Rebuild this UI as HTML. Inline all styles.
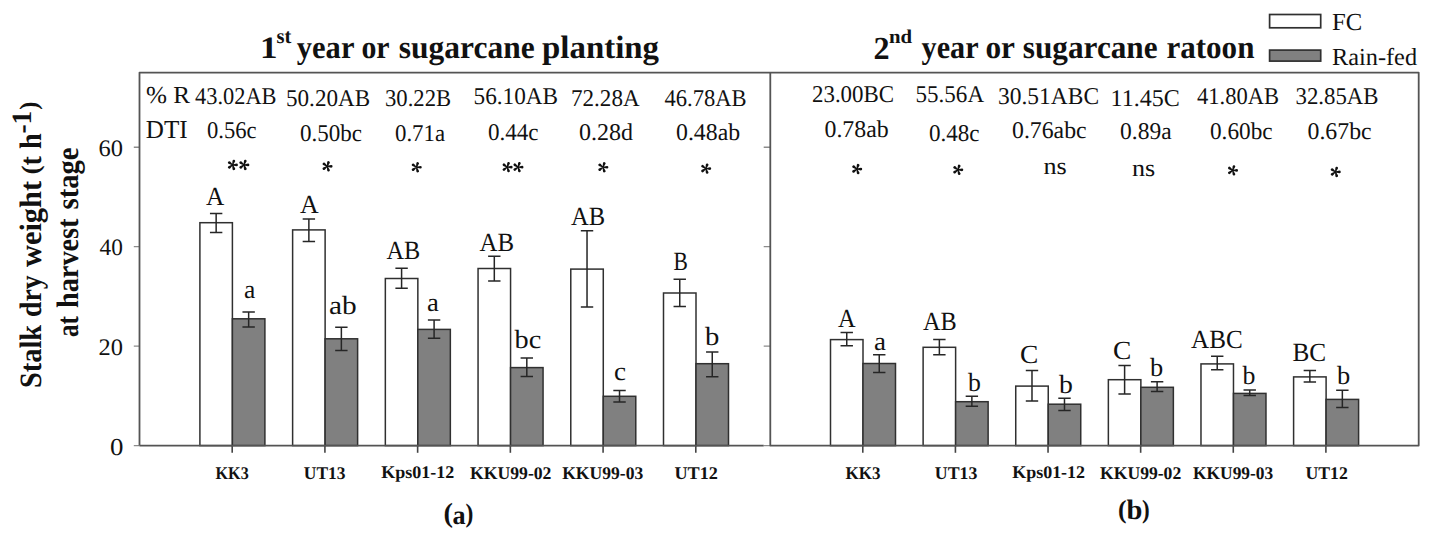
<!DOCTYPE html><html><head><meta charset="utf-8"><style>html,body{margin:0;padding:0;background:#fff;overflow:hidden;}svg{display:block;}text{font-family:"Liberation Serif",serif;fill:#111;text-rendering:geometricPrecision;}</style></head><body>
<svg width="1435" height="534" viewBox="0 0 1435 534">
<rect x="0" y="0" width="1435" height="534" fill="#fff"/>
<rect x="199.90" y="222.70" width="32.50" height="222.90" fill="#fff" stroke="#303030" stroke-width="1.5"/>
<rect x="232.40" y="318.80" width="32.50" height="126.80" fill="#808080" stroke="#303030" stroke-width="1.5"/>
<rect x="292.62" y="229.90" width="32.50" height="215.70" fill="#fff" stroke="#303030" stroke-width="1.5"/>
<rect x="325.12" y="338.80" width="32.50" height="106.80" fill="#808080" stroke="#303030" stroke-width="1.5"/>
<rect x="385.34" y="278.50" width="32.50" height="167.10" fill="#fff" stroke="#303030" stroke-width="1.5"/>
<rect x="417.84" y="329.40" width="32.50" height="116.20" fill="#808080" stroke="#303030" stroke-width="1.5"/>
<rect x="478.06" y="268.50" width="32.50" height="177.10" fill="#fff" stroke="#303030" stroke-width="1.5"/>
<rect x="510.56" y="367.60" width="32.50" height="78.00" fill="#808080" stroke="#303030" stroke-width="1.5"/>
<rect x="570.78" y="269.10" width="32.50" height="176.50" fill="#fff" stroke="#303030" stroke-width="1.5"/>
<rect x="603.28" y="396.30" width="32.50" height="49.30" fill="#808080" stroke="#303030" stroke-width="1.5"/>
<rect x="663.50" y="293.00" width="32.50" height="152.60" fill="#fff" stroke="#303030" stroke-width="1.5"/>
<rect x="696.00" y="363.70" width="32.50" height="81.90" fill="#808080" stroke="#303030" stroke-width="1.5"/>
<rect x="830.50" y="339.60" width="32.50" height="106.00" fill="#fff" stroke="#303030" stroke-width="1.5"/>
<rect x="863.00" y="363.50" width="32.50" height="82.10" fill="#808080" stroke="#303030" stroke-width="1.5"/>
<rect x="923.12" y="347.30" width="32.50" height="98.30" fill="#fff" stroke="#303030" stroke-width="1.5"/>
<rect x="955.62" y="401.70" width="32.50" height="43.90" fill="#808080" stroke="#303030" stroke-width="1.5"/>
<rect x="1015.74" y="386.10" width="32.50" height="59.50" fill="#fff" stroke="#303030" stroke-width="1.5"/>
<rect x="1048.24" y="404.20" width="32.50" height="41.40" fill="#808080" stroke="#303030" stroke-width="1.5"/>
<rect x="1108.36" y="379.70" width="32.50" height="65.90" fill="#fff" stroke="#303030" stroke-width="1.5"/>
<rect x="1140.86" y="387.30" width="32.50" height="58.30" fill="#808080" stroke="#303030" stroke-width="1.5"/>
<rect x="1200.98" y="363.90" width="32.50" height="81.70" fill="#fff" stroke="#303030" stroke-width="1.5"/>
<rect x="1233.48" y="393.40" width="32.50" height="52.20" fill="#808080" stroke="#303030" stroke-width="1.5"/>
<rect x="1293.60" y="376.90" width="32.50" height="68.70" fill="#fff" stroke="#303030" stroke-width="1.5"/>
<rect x="1326.10" y="399.40" width="32.50" height="46.20" fill="#808080" stroke="#303030" stroke-width="1.5"/>
<path d="M216.15 213.50V232.40M209.95 213.50H222.35M209.95 232.40H222.35" stroke="#262626" stroke-width="1.5" fill="none"/>
<path d="M248.65 312.00V327.00M242.45 312.00H254.85M242.45 327.00H254.85" stroke="#262626" stroke-width="1.5" fill="none"/>
<path d="M308.87 218.90V241.50M302.67 218.90H315.07M302.67 241.50H315.07" stroke="#262626" stroke-width="1.5" fill="none"/>
<path d="M341.37 327.20V350.40M335.17 327.20H347.57M335.17 350.40H347.57" stroke="#262626" stroke-width="1.5" fill="none"/>
<path d="M401.59 268.20V288.20M395.39 268.20H407.79M395.39 288.20H407.79" stroke="#262626" stroke-width="1.5" fill="none"/>
<path d="M434.09 319.90V338.20M427.89 319.90H440.29M427.89 338.20H440.29" stroke="#262626" stroke-width="1.5" fill="none"/>
<path d="M494.31 256.20V280.90M488.11 256.20H500.51M488.11 280.90H500.51" stroke="#262626" stroke-width="1.5" fill="none"/>
<path d="M526.81 357.90V376.60M520.61 357.90H533.01M520.61 376.60H533.01" stroke="#262626" stroke-width="1.5" fill="none"/>
<path d="M587.03 230.70V307.10M580.83 230.70H593.23M580.83 307.10H593.23" stroke="#262626" stroke-width="1.5" fill="none"/>
<path d="M619.53 390.60V402.10M613.33 390.60H625.73M613.33 402.10H625.73" stroke="#262626" stroke-width="1.5" fill="none"/>
<path d="M679.75 279.30V306.50M673.55 279.30H685.95M673.55 306.50H685.95" stroke="#262626" stroke-width="1.5" fill="none"/>
<path d="M712.25 352.00V376.80M706.05 352.00H718.45M706.05 376.80H718.45" stroke="#262626" stroke-width="1.5" fill="none"/>
<path d="M846.75 332.40V345.80M840.55 332.40H852.95M840.55 345.80H852.95" stroke="#262626" stroke-width="1.5" fill="none"/>
<path d="M879.25 354.80V372.50M873.05 354.80H885.45M873.05 372.50H885.45" stroke="#262626" stroke-width="1.5" fill="none"/>
<path d="M939.37 339.40V354.70M933.17 339.40H945.57M933.17 354.70H945.57" stroke="#262626" stroke-width="1.5" fill="none"/>
<path d="M971.87 396.30V406.20M965.67 396.30H978.07M965.67 406.20H978.07" stroke="#262626" stroke-width="1.5" fill="none"/>
<path d="M1031.99 370.50V401.10M1025.79 370.50H1038.19M1025.79 401.10H1038.19" stroke="#262626" stroke-width="1.5" fill="none"/>
<path d="M1064.49 398.30V410.40M1058.29 398.30H1070.69M1058.29 410.40H1070.69" stroke="#262626" stroke-width="1.5" fill="none"/>
<path d="M1124.61 365.40V394.00M1118.41 365.40H1130.81M1118.41 394.00H1130.81" stroke="#262626" stroke-width="1.5" fill="none"/>
<path d="M1157.11 381.70V391.50M1150.91 381.70H1163.31M1150.91 391.50H1163.31" stroke="#262626" stroke-width="1.5" fill="none"/>
<path d="M1217.23 356.30V369.80M1211.03 356.30H1223.43M1211.03 369.80H1223.43" stroke="#262626" stroke-width="1.5" fill="none"/>
<path d="M1249.73 390.00V395.60M1243.53 390.00H1255.93M1243.53 395.60H1255.93" stroke="#262626" stroke-width="1.5" fill="none"/>
<path d="M1309.85 370.50V381.90M1303.65 370.50H1316.05M1303.65 381.90H1316.05" stroke="#262626" stroke-width="1.5" fill="none"/>
<path d="M1342.35 390.30V407.50M1336.15 390.30H1348.55M1336.15 407.50H1348.55" stroke="#262626" stroke-width="1.5" fill="none"/>
<path d="M133.80 445.60H139.5M763.70 445.60H770.3" stroke="#8c8c8c" stroke-width="1.4"/>
<path d="M133.80 346.13H139.5M763.70 346.13H770.3" stroke="#8c8c8c" stroke-width="1.4"/>
<path d="M133.80 246.67H139.5M763.70 246.67H770.3" stroke="#8c8c8c" stroke-width="1.4"/>
<path d="M133.80 147.20H139.5M763.70 147.20H770.3" stroke="#8c8c8c" stroke-width="1.4"/>
<path d="M232.20 445.6V452.8" stroke="#444" stroke-width="1.6"/>
<path d="M324.92 445.6V452.8" stroke="#444" stroke-width="1.6"/>
<path d="M417.64 445.6V452.8" stroke="#444" stroke-width="1.6"/>
<path d="M510.36 445.6V452.8" stroke="#444" stroke-width="1.6"/>
<path d="M603.08 445.6V452.8" stroke="#444" stroke-width="1.6"/>
<path d="M695.80 445.6V452.8" stroke="#444" stroke-width="1.6"/>
<path d="M862.80 445.6V452.8" stroke="#444" stroke-width="1.6"/>
<path d="M955.42 445.6V452.8" stroke="#444" stroke-width="1.6"/>
<path d="M1048.04 445.6V452.8" stroke="#444" stroke-width="1.6"/>
<path d="M1140.66 445.6V452.8" stroke="#444" stroke-width="1.6"/>
<path d="M1233.28 445.6V452.8" stroke="#444" stroke-width="1.6"/>
<path d="M1325.90 445.6V452.8" stroke="#444" stroke-width="1.6"/>
<path d="M139.5 445.6V72.6H1418.7V445.6H770.3V72.6 M139.5 445.6H763.70" stroke="#545454" stroke-width="1.8" fill="none" stroke-linejoin="round"/>
<rect x="1269.6" y="14.5" width="51.1" height="13.3" fill="#fff" stroke="#303030" stroke-width="1.7"/>
<rect x="1269.6" y="50.1" width="51.1" height="11" fill="#808080" stroke="#303030" stroke-width="1.7"/>
<text x="146.00" y="103" font-size="24.40" textLength="44.02" lengthAdjust="spacingAndGlyphs">% R</text>
<text x="195.00" y="104" font-size="24.00" textLength="81.52" lengthAdjust="spacingAndGlyphs">43.02AB</text>
<text x="286.00" y="106" font-size="24.00" textLength="84.15" lengthAdjust="spacingAndGlyphs">50.20AB</text>
<text x="385.00" y="106" font-size="24.00" textLength="66.13" lengthAdjust="spacingAndGlyphs">30.22B</text>
<text x="473.50" y="104" font-size="24.00" textLength="84.63" lengthAdjust="spacingAndGlyphs">56.10AB</text>
<text x="571.00" y="106" font-size="24.00" textLength="68.62" lengthAdjust="spacingAndGlyphs">72.28A</text>
<text x="664.50" y="106" font-size="24.00" textLength="82.03" lengthAdjust="spacingAndGlyphs">46.78AB</text>
<text x="812.00" y="102" font-size="24.00" textLength="82.07" lengthAdjust="spacingAndGlyphs">23.00BC</text>
<text x="915.50" y="102" font-size="24.00" textLength="68.57" lengthAdjust="spacingAndGlyphs">55.56A</text>
<text x="998.00" y="104" font-size="24.00" textLength="101.08" lengthAdjust="spacingAndGlyphs">30.51ABC</text>
<text x="1110.50" y="106" font-size="24.00" textLength="69.24" lengthAdjust="spacingAndGlyphs">11.45C</text>
<text x="1197.00" y="104" font-size="24.00" textLength="82.03" lengthAdjust="spacingAndGlyphs">41.80AB</text>
<text x="1295.50" y="104" font-size="24.00" textLength="83.09" lengthAdjust="spacingAndGlyphs">32.85AB</text>
<text x="145.80" y="138" font-size="25.90" textLength="41.83" lengthAdjust="spacingAndGlyphs">DTI</text>
<text x="207.00" y="138" font-size="24.00" textLength="49.59" lengthAdjust="spacingAndGlyphs">0.56c</text>
<text x="300.00" y="141" font-size="24.00" textLength="62.05" lengthAdjust="spacingAndGlyphs">0.50bc</text>
<text x="395.00" y="141" font-size="24.00" textLength="50.08" lengthAdjust="spacingAndGlyphs">0.71a</text>
<text x="488.00" y="140" font-size="24.00" textLength="50.59" lengthAdjust="spacingAndGlyphs">0.44c</text>
<text x="579.00" y="140" font-size="24.00" textLength="54.07" lengthAdjust="spacingAndGlyphs">0.28d</text>
<text x="676.00" y="140" font-size="24.00" textLength="64.09" lengthAdjust="spacingAndGlyphs">0.48ab</text>
<text x="824.50" y="137" font-size="24.00" textLength="64.13" lengthAdjust="spacingAndGlyphs">0.78ab</text>
<text x="929.00" y="141" font-size="24.00" textLength="50.59" lengthAdjust="spacingAndGlyphs">0.48c</text>
<text x="1012.00" y="138" font-size="24.00" textLength="74.57" lengthAdjust="spacingAndGlyphs">0.76abc</text>
<text x="1120.00" y="139" font-size="24.00" textLength="51.59" lengthAdjust="spacingAndGlyphs">0.89a</text>
<text x="1210.00" y="139" font-size="24.00" textLength="62.57" lengthAdjust="spacingAndGlyphs">0.60bc</text>
<text x="1307.50" y="139" font-size="24.00" textLength="64.10" lengthAdjust="spacingAndGlyphs">0.67bc</text>
<text x="1043.50" y="174" font-size="24.00" textLength="23.29" lengthAdjust="spacingAndGlyphs">ns</text>
<text x="1132.00" y="176" font-size="24.00" textLength="23.19" lengthAdjust="spacingAndGlyphs">ns</text>
<text x="206.00" y="205" font-size="26.20" textLength="18.28" lengthAdjust="spacingAndGlyphs">A</text>
<text x="244.00" y="298" font-size="26.20" textLength="11.30" lengthAdjust="spacingAndGlyphs">a</text>
<text x="300.00" y="213" font-size="26.20" textLength="18.68" lengthAdjust="spacingAndGlyphs">A</text>
<text x="329.00" y="314" font-size="26.20" textLength="27.69" lengthAdjust="spacingAndGlyphs">ab</text>
<text x="386.50" y="259" font-size="26.20" textLength="33.72" lengthAdjust="spacingAndGlyphs">AB</text>
<text x="427.00" y="311" font-size="26.20" textLength="11.82" lengthAdjust="spacingAndGlyphs">a</text>
<text x="479.50" y="251" font-size="26.20" textLength="34.58" lengthAdjust="spacingAndGlyphs">AB</text>
<text x="514.50" y="348" font-size="26.20" textLength="26.69" lengthAdjust="spacingAndGlyphs">bc</text>
<text x="571.00" y="225" font-size="26.20" textLength="34.15" lengthAdjust="spacingAndGlyphs">AB</text>
<text x="614.00" y="380" font-size="26.20" textLength="11.99" lengthAdjust="spacingAndGlyphs">c</text>
<text x="673.50" y="270" font-size="26.20" textLength="14.37" lengthAdjust="spacingAndGlyphs">B</text>
<text x="705.00" y="345" font-size="26.20" textLength="14.35" lengthAdjust="spacingAndGlyphs">b</text>
<text x="838.00" y="327" font-size="26.20" textLength="17.60" lengthAdjust="spacingAndGlyphs">A</text>
<text x="874.00" y="350" font-size="26.20" textLength="11.97" lengthAdjust="spacingAndGlyphs">a</text>
<text x="923.00" y="330" font-size="26.20" textLength="33.72" lengthAdjust="spacingAndGlyphs">AB</text>
<text x="968.00" y="391" font-size="26.20" textLength="12.88" lengthAdjust="spacingAndGlyphs">b</text>
<text x="1020.00" y="363" font-size="26.20" textLength="18.29" lengthAdjust="spacingAndGlyphs">C</text>
<text x="1059.00" y="393" font-size="26.20" textLength="13.88" lengthAdjust="spacingAndGlyphs">b</text>
<text x="1113.00" y="359" font-size="26.20" textLength="18.29" lengthAdjust="spacingAndGlyphs">C</text>
<text x="1150.00" y="376" font-size="26.20" textLength="13.19" lengthAdjust="spacingAndGlyphs">b</text>
<text x="1191.00" y="348" font-size="26.20" textLength="51.65" lengthAdjust="spacingAndGlyphs">ABC</text>
<text x="1242.50" y="384" font-size="26.20" textLength="12.90" lengthAdjust="spacingAndGlyphs">b</text>
<text x="1292.50" y="361" font-size="26.20" textLength="33.71" lengthAdjust="spacingAndGlyphs">BC</text>
<text x="1337.00" y="384" font-size="26.20" textLength="13.21" lengthAdjust="spacingAndGlyphs">b</text>
<text x="110.00" y="455" font-size="24.39" textLength="13.44" lengthAdjust="spacingAndGlyphs">0</text>
<text x="98.50" y="355" font-size="23.71" textLength="24.41" lengthAdjust="spacingAndGlyphs">20</text>
<text x="99.50" y="255" font-size="23.71" textLength="23.25" lengthAdjust="spacingAndGlyphs">40</text>
<text x="98.50" y="156" font-size="23.71" textLength="24.41" lengthAdjust="spacingAndGlyphs">60</text>
<text x="215.60" y="479" font-size="17.80" font-weight="bold" textLength="33.09" lengthAdjust="spacingAndGlyphs">KK3</text>
<text x="303.80" y="479" font-size="17.80" font-weight="bold" textLength="41.68" lengthAdjust="spacingAndGlyphs">UT13</text>
<text x="381.20" y="478" font-size="17.80" font-weight="bold" textLength="73.06" lengthAdjust="spacingAndGlyphs">Kps01-12</text>
<text x="470.00" y="479" font-size="17.80" font-weight="bold" textLength="81.47" lengthAdjust="spacingAndGlyphs">KKU99-02</text>
<text x="562.20" y="479" font-size="17.80" font-weight="bold" textLength="81.04" lengthAdjust="spacingAndGlyphs">KKU99-03</text>
<text x="674.40" y="479" font-size="17.80" font-weight="bold" textLength="43.44" lengthAdjust="spacingAndGlyphs">UT12</text>
<text x="845.60" y="479" font-size="17.80" font-weight="bold" textLength="34.94" lengthAdjust="spacingAndGlyphs">KK3</text>
<text x="934.80" y="479" font-size="17.80" font-weight="bold" textLength="42.53" lengthAdjust="spacingAndGlyphs">UT13</text>
<text x="1012.20" y="478" font-size="17.80" font-weight="bold" textLength="72.87" lengthAdjust="spacingAndGlyphs">Kps01-12</text>
<text x="1100.00" y="479" font-size="17.80" font-weight="bold" textLength="81.25" lengthAdjust="spacingAndGlyphs">KKU99-02</text>
<text x="1193.00" y="479" font-size="17.80" font-weight="bold" textLength="80.24" lengthAdjust="spacingAndGlyphs">KKU99-03</text>
<text x="1305.40" y="479" font-size="17.80" font-weight="bold" textLength="42.38" lengthAdjust="spacingAndGlyphs">UT12</text>
<text x="443.50" y="522" font-size="27.68" font-weight="bold" textLength="9.45" lengthAdjust="spacingAndGlyphs">(</text>
<text x="452.50" y="524" font-size="26.66" font-weight="bold" textLength="13.09" lengthAdjust="spacingAndGlyphs">a</text>
<text x="465.50" y="522" font-size="26.53" font-weight="bold" textLength="7.88" lengthAdjust="spacingAndGlyphs">)</text>
<text x="1118.00" y="518" font-size="26.07" font-weight="bold" textLength="8.52" lengthAdjust="spacingAndGlyphs">(</text>
<text x="1126.50" y="519" font-size="27.98" font-weight="bold" textLength="15.89" lengthAdjust="spacingAndGlyphs">b</text>
<text x="1142.00" y="518" font-size="26.24" font-weight="bold" textLength="7.71" lengthAdjust="spacingAndGlyphs">)</text>
<text x="1332.00" y="30" font-size="24.50" textLength="30.20" lengthAdjust="spacingAndGlyphs">FC</text>
<text x="1332.00" y="65" font-size="24.50" textLength="85.04" lengthAdjust="spacingAndGlyphs">Rain-fed</text>
<text x="260.00" y="58" font-size="31.17" font-weight="bold" textLength="17.53" lengthAdjust="spacingAndGlyphs">1</text>
<text x="276.50" y="43" font-size="20.96" font-weight="bold" textLength="14.80" lengthAdjust="spacingAndGlyphs">st</text>
<text x="296.80" y="58" font-size="32.40" font-weight="bold" textLength="57.64" lengthAdjust="spacingAndGlyphs">year</text>
<text x="361.40" y="58" font-size="32.40" font-weight="bold" textLength="28.16" lengthAdjust="spacingAndGlyphs">or</text>
<text x="398.80" y="58" font-size="32.40" font-weight="bold" textLength="135.82" lengthAdjust="spacingAndGlyphs">sugarcane</text>
<text x="542.00" y="58" font-size="32.40" font-weight="bold" textLength="117.01" lengthAdjust="spacingAndGlyphs">planting</text>
<text x="873.50" y="59" font-size="32.16" font-weight="bold" textLength="16.08" lengthAdjust="spacingAndGlyphs">2</text>
<text x="889.00" y="43" font-size="19.65" font-weight="bold" textLength="23.13" lengthAdjust="spacingAndGlyphs">nd</text>
<text x="921.60" y="58" font-size="32.40" font-weight="bold" textLength="57.02" lengthAdjust="spacingAndGlyphs">year</text>
<text x="985.40" y="58" font-size="32.40" font-weight="bold" textLength="29.57" lengthAdjust="spacingAndGlyphs">or</text>
<text x="1022.80" y="58" font-size="32.40" font-weight="bold" textLength="134.82" lengthAdjust="spacingAndGlyphs">sugarcane</text>
<text x="1166.40" y="58" font-size="32.40" font-weight="bold" textLength="88.05" lengthAdjust="spacingAndGlyphs">ratoon</text>
<path d="M232.57 165.40L236.57 166.30A1.35 1.35 0 1 0 236.57 163.60L232.57 164.50ZM232.14 165.09L232.52 169.17A1.35 1.35 0 1 0 235.09 168.34L233.00 164.81ZM232.30 164.59L228.54 166.21A1.35 1.35 0 1 0 230.13 168.39L232.83 165.31ZM232.83 164.59L230.13 161.51A1.35 1.35 0 1 0 228.54 163.69L232.30 165.31ZM233.00 165.09L235.09 161.56A1.35 1.35 0 1 0 232.52 160.73L232.14 164.81ZM244.02 165.40L248.02 166.30A1.35 1.35 0 1 0 248.02 163.60L244.02 164.50ZM243.59 165.09L243.97 169.17A1.35 1.35 0 1 0 246.54 168.34L244.45 164.81ZM243.75 164.59L239.99 166.21A1.35 1.35 0 1 0 241.58 168.39L244.28 165.31ZM244.28 164.59L241.58 161.51A1.35 1.35 0 1 0 239.99 163.69L243.75 165.31ZM244.45 165.09L246.54 161.56A1.35 1.35 0 1 0 243.97 160.73L243.59 164.81ZM327.22 166.75L331.22 167.65A1.35 1.35 0 1 0 331.22 164.95L327.22 165.85ZM326.79 166.44L327.17 170.52A1.35 1.35 0 1 0 329.74 169.69L327.65 166.16ZM326.95 165.94L323.19 167.56A1.35 1.35 0 1 0 324.78 169.74L327.48 166.66ZM327.48 165.94L324.78 162.86A1.35 1.35 0 1 0 323.19 165.04L326.95 166.66ZM327.65 166.44L329.74 162.91A1.35 1.35 0 1 0 327.17 162.08L326.79 166.16ZM416.42 167.70L420.42 168.60A1.35 1.35 0 1 0 420.42 165.90L416.42 166.80ZM415.99 167.39L416.37 171.47A1.35 1.35 0 1 0 418.94 170.64L416.85 167.11ZM416.15 166.89L412.39 168.51A1.35 1.35 0 1 0 413.98 170.69L416.68 167.61ZM416.68 166.89L413.98 163.81A1.35 1.35 0 1 0 412.39 165.99L416.15 167.61ZM416.85 167.39L418.94 163.86A1.35 1.35 0 1 0 416.37 163.03L415.99 167.11ZM507.27 167.60L511.27 168.50A1.35 1.35 0 1 0 511.27 165.80L507.27 166.70ZM506.84 167.29L507.22 171.37A1.35 1.35 0 1 0 509.79 170.54L507.70 167.01ZM507.00 166.79L503.24 168.41A1.35 1.35 0 1 0 504.83 170.59L507.53 167.51ZM507.53 166.79L504.83 163.71A1.35 1.35 0 1 0 503.24 165.89L507.00 167.51ZM507.70 167.29L509.79 163.76A1.35 1.35 0 1 0 507.22 162.93L506.84 167.01ZM518.12 167.60L522.12 168.50A1.35 1.35 0 1 0 522.12 165.80L518.12 166.70ZM517.69 167.29L518.07 171.37A1.35 1.35 0 1 0 520.64 170.54L518.55 167.01ZM517.85 166.79L514.09 168.41A1.35 1.35 0 1 0 515.68 170.59L518.38 167.51ZM518.38 166.79L515.68 163.71A1.35 1.35 0 1 0 514.09 165.89L517.85 167.51ZM518.55 167.29L520.64 163.76A1.35 1.35 0 1 0 518.07 162.93L517.69 167.01ZM603.02 167.70L607.02 168.60A1.35 1.35 0 1 0 607.02 165.90L603.02 166.80ZM602.59 167.39L602.97 171.47A1.35 1.35 0 1 0 605.54 170.64L603.45 167.11ZM602.75 166.89L598.99 168.51A1.35 1.35 0 1 0 600.58 170.69L603.28 167.61ZM603.28 166.89L600.58 163.81A1.35 1.35 0 1 0 598.99 165.99L602.75 167.61ZM603.45 167.39L605.54 163.86A1.35 1.35 0 1 0 602.97 163.03L602.59 167.11ZM705.87 169.05L709.87 169.95A1.35 1.35 0 1 0 709.87 167.25L705.87 168.15ZM705.44 168.74L705.82 172.82A1.35 1.35 0 1 0 708.39 171.99L706.30 168.46ZM705.60 168.24L701.84 169.86A1.35 1.35 0 1 0 703.43 172.04L706.13 168.96ZM706.13 168.24L703.43 165.16A1.35 1.35 0 1 0 701.84 167.34L705.60 168.96ZM706.30 168.74L708.39 165.21A1.35 1.35 0 1 0 705.82 164.38L705.44 168.46ZM856.87 169.50L860.87 170.40A1.35 1.35 0 1 0 860.87 167.70L856.87 168.60ZM856.44 169.19L856.82 173.27A1.35 1.35 0 1 0 859.39 172.44L857.30 168.91ZM856.60 168.69L852.84 170.31A1.35 1.35 0 1 0 854.43 172.49L857.13 169.41ZM857.13 168.69L854.43 165.61A1.35 1.35 0 1 0 852.84 167.79L856.60 169.41ZM857.30 169.19L859.39 165.66A1.35 1.35 0 1 0 856.82 164.83L856.44 168.91ZM957.92 170.25L961.92 171.15A1.35 1.35 0 1 0 961.92 168.45L957.92 169.35ZM957.49 169.94L957.87 174.02A1.35 1.35 0 1 0 960.44 173.19L958.35 169.66ZM957.65 169.44L953.89 171.06A1.35 1.35 0 1 0 955.48 173.24L958.18 170.16ZM958.18 169.44L955.48 166.36A1.35 1.35 0 1 0 953.89 168.54L957.65 170.16ZM958.35 169.94L960.44 166.41A1.35 1.35 0 1 0 957.87 165.58L957.49 169.66ZM1232.67 170.85L1236.67 171.75A1.35 1.35 0 1 0 1236.67 169.05L1232.67 169.95ZM1232.24 170.54L1232.62 174.62A1.35 1.35 0 1 0 1235.19 173.79L1233.10 170.26ZM1232.40 170.04L1228.64 171.66A1.35 1.35 0 1 0 1230.23 173.84L1232.93 170.76ZM1232.93 170.04L1230.23 166.96A1.35 1.35 0 1 0 1228.64 169.14L1232.40 170.76ZM1233.10 170.54L1235.19 167.01A1.35 1.35 0 1 0 1232.62 166.18L1232.24 170.26ZM1335.42 172.40L1339.42 173.30A1.35 1.35 0 1 0 1339.42 170.60L1335.42 171.50ZM1334.99 172.09L1335.37 176.17A1.35 1.35 0 1 0 1337.94 175.34L1335.85 171.81ZM1335.15 171.59L1331.39 173.21A1.35 1.35 0 1 0 1332.98 175.39L1335.68 172.31ZM1335.68 171.59L1332.98 168.51A1.35 1.35 0 1 0 1331.39 170.69L1335.15 172.31ZM1335.85 172.09L1337.94 168.56A1.35 1.35 0 1 0 1335.37 167.73L1334.99 171.81Z" fill="#111"/>
<text transform="translate(40.70,388.00) rotate(-90)" x="0" y="0" font-size="31.00" font-weight="bold" textLength="63.02" lengthAdjust="spacingAndGlyphs">Stalk</text>
<text transform="translate(40.70,317.00) rotate(-90)" x="0" y="0" font-size="31.00" font-weight="bold" textLength="41.61" lengthAdjust="spacingAndGlyphs">dry</text>
<text transform="translate(40.70,267.00) rotate(-90)" x="0" y="0" font-size="31.00" font-weight="bold" textLength="86.00" lengthAdjust="spacingAndGlyphs">weight</text>
<text transform="translate(38.50,174.50) rotate(-90)" x="0" y="0" font-size="25.50" font-weight="bold" textLength="9.21" lengthAdjust="spacingAndGlyphs">(</text>
<text transform="translate(40.60,165.50) rotate(-90)" x="0" y="0" font-size="31.00" font-weight="bold" textLength="32.09" lengthAdjust="spacingAndGlyphs">t h</text>
<text transform="translate(30.90,133.60) rotate(-90)" x="0" y="0" font-size="27.90" font-weight="bold" textLength="22.89" lengthAdjust="spacingAndGlyphs">-1</text>
<text transform="translate(37.30,109.80) rotate(-90)" x="0" y="0" font-size="25.34" font-weight="bold" textLength="8.20" lengthAdjust="spacingAndGlyphs">)</text>
<text transform="translate(78.20,337.00) rotate(-90)" x="0" y="0" font-size="31.00" font-weight="bold" textLength="21.03" lengthAdjust="spacingAndGlyphs">at</text>
<text transform="translate(78.20,308.00) rotate(-90)" x="0" y="0" font-size="31.00" font-weight="bold" textLength="89.51" lengthAdjust="spacingAndGlyphs">harvest</text>
<text transform="translate(78.20,209.50) rotate(-90)" x="0" y="0" font-size="31.00" font-weight="bold" textLength="62.06" lengthAdjust="spacingAndGlyphs">stage</text>
</svg></body></html>
